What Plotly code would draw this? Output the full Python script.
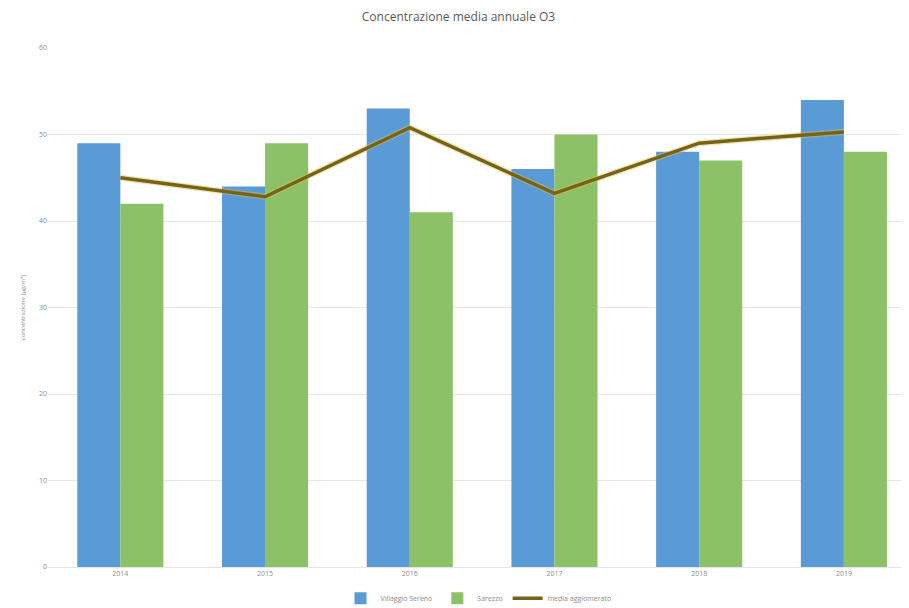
import plotly.graph_objects as go

# dati
anni = ["2014", "2015", "2016", "2017", "2018", "2019"]
villaggio_sereno = [49, 44, 53, 46, 48, 54]
sarezzo = [42, 49, 41, 50, 47, 48]
media_agglomerato = [45.0, 42.8, 50.8, 43.2, 49.0, 50.3]
y_ticks = [0, 10, 20, 30, 40, 50, 60]

fig = go.Figure()
fig.add_trace(go.Bar(x=anni, y=villaggio_sereno, name="Villaggio Sereno",
                     marker=dict(color="#5b9bd5", line=dict(width=0))))
fig.add_trace(go.Bar(x=anni, y=sarezzo, name="Sarezzo",
                     marker=dict(color="#8cc168", line=dict(width=0))))
# alone giallo sotto la linea
fig.add_trace(go.Scatter(x=anni, y=media_agglomerato, mode="lines", showlegend=False,
                         hoverinfo="skip", line=dict(color="rgba(225,195,70,0.45)", width=6)))
fig.add_trace(go.Scatter(x=anni, y=media_agglomerato, mode="lines", name="media agglomerato",
                         line=dict(color="#75631a", width=3.5)))

# la pagina ha un margine di 8px attorno al grafico
fig.update_layout(
    width=901, height=600,
    paper_bgcolor="white", plot_bgcolor="white",
    font=dict(family="Open Sans", color="#8c8c8c", size=8),
    title=dict(text="Concentrazione media annuale O3", x=0.5, xanchor="center",
               y=0.985, yanchor="middle", font=dict(size=12, color="#595959")),
    margin=dict(l=40, r=0, t=40, b=41, autoexpand=False),
    barmode="group", bargap=0.405, bargroupgap=0,
    showlegend=True,
    legend=dict(orientation="h", x=0.5, xanchor="center", y=-0.06, yanchor="middle",
                font=dict(size=7, color="#8c8c8c"), traceorder="normal"),
    xaxis=dict(type="category", range=[-0.5, 5.45], showgrid=False, ticks="",
               showline=True, linecolor="#e6e6e6", tickfont=dict(size=7, color="#8c8c8c")),
    yaxis=dict(range=[0, 60], tickvals=y_ticks, showgrid=True, gridcolor="#e6e6e6",
               zeroline=False, ticks="", tickfont=dict(size=7, color="#8c8c8c"),
               title=dict(text="concentrazione [µg/m³]", font=dict(size=6, color="#8c8c8c"),
                          standoff=12)),
)

fig.write_html("out.html")
